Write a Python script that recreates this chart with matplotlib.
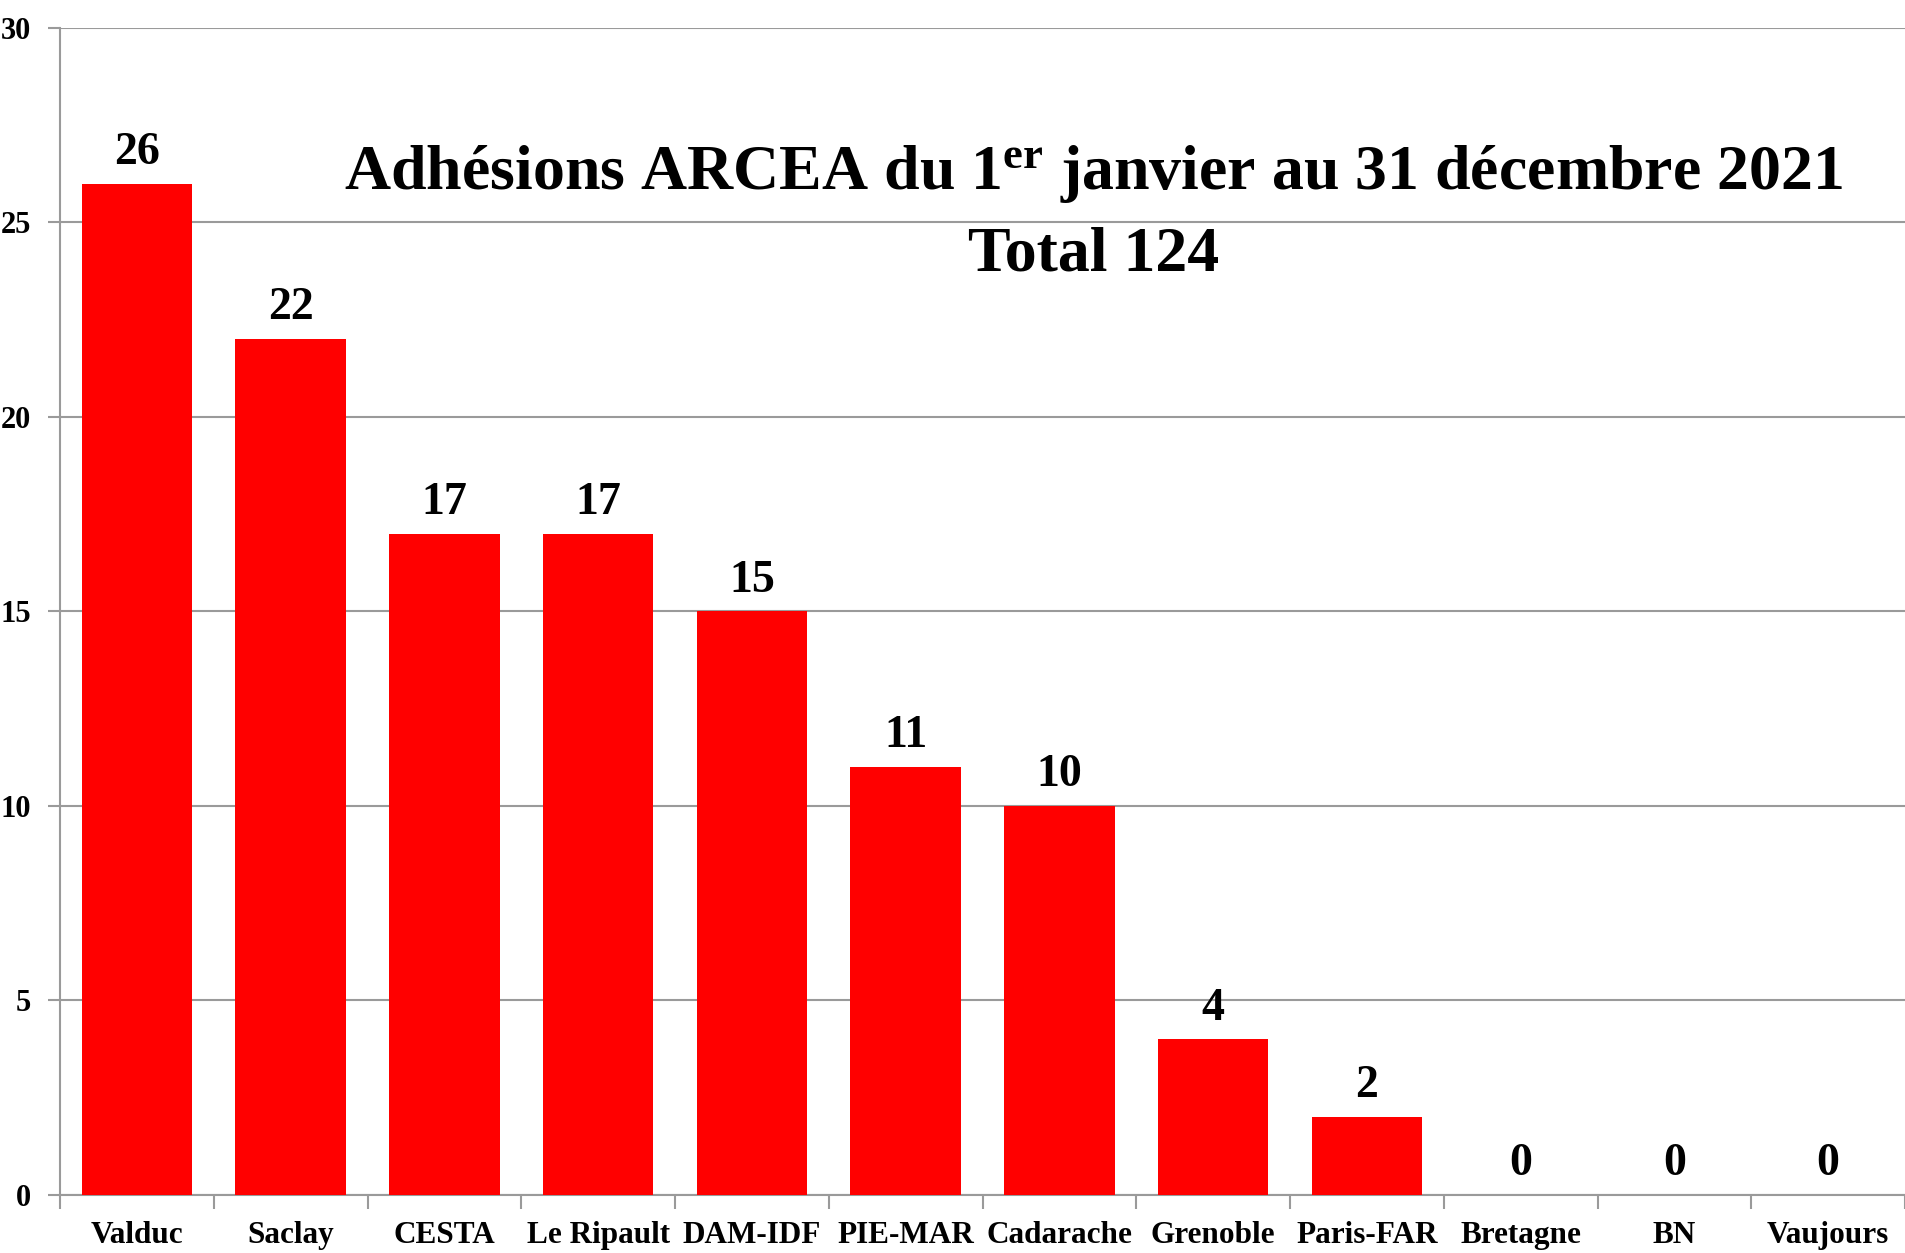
import matplotlib.pyplot as plt
import numpy as np

sites = ["Valduc", "Saclay", "CESTA", "Le Ripault", "DAM-IDF", "PIE-MAR",
         "Cadarache", "Grenoble", "Paris-FAR", "Bretagne", "BN", "Vaujours"]
adhesions = [26, 22, 17, 17, 15, 11, 10, 4, 2, 0, 0, 0]
yticks = [0, 5, 10, 15, 20, 25, 30]

plt.rcParams["font.family"] = ["Liberation Serif", "DejaVu Serif"]
plt.rcParams["font.weight"] = "bold"
plt.rcParams["mathtext.fontset"] = "custom"
plt.rcParams["mathtext.rm"] = "Liberation Serif:bold"
plt.rcParams["mathtext.it"] = "Liberation Serif:bold"

gris = "#9a9a9a"

fig = plt.figure(figsize=(19.05, 12.53), dpi=100)
ax = fig.add_axes([0.0315, 0.0463, 0.9685, 0.9314])

x = np.arange(len(sites))
barres = ax.bar(x, adhesions, width=0.72, color="#FF0000", zorder=3)

for xi, v in zip(x, adhesions):
    ax.annotate(str(v), (xi, v), xytext=(0, 7), textcoords="offset points",
                ha="center", va="bottom", fontsize=33, fontweight="bold")

ax.set_xlim(-0.5, len(sites) - 0.5)
ax.set_ylim(0, 30)
ax.set_yticks(yticks)
ax.set_xticks(x)
ax.set_xticklabels(sites, fontsize=22.5, fontweight="bold")
ax.set_xticks(np.arange(len(sites) + 1) - 0.5, minor=True)
ax.tick_params(axis="x", which="major", length=0, pad=19)
ax.tick_params(axis="x", which="minor", length=10, width=1.5, color=gris)
ax.tick_params(axis="y", length=9, width=1.5, color=gris, labelsize=22, pad=12)
for lab in ax.get_yticklabels():
    lab.set_fontweight("bold")

ax.grid(axis="y", color=gris, linewidth=1.5, zorder=0)
for s in ["top", "right"]:
    ax.spines[s].set_visible(False)
for s in ["left", "bottom"]:
    ax.spines[s].set_color(gris)
    ax.spines[s].set_linewidth(1.5)

ax.text(0.56, 0.875, "Adhésions ARCEA du 1$^{\\mathrm{er}}$ janvier au 31 décembre 2021",
        transform=ax.transAxes, ha="center", va="center", fontsize=46, fontweight="bold")
ax.text(0.56, 0.805, "Total 124", transform=ax.transAxes, ha="center", va="center",
        fontsize=46, fontweight="bold")

plt.savefig("out.png", dpi=100)
